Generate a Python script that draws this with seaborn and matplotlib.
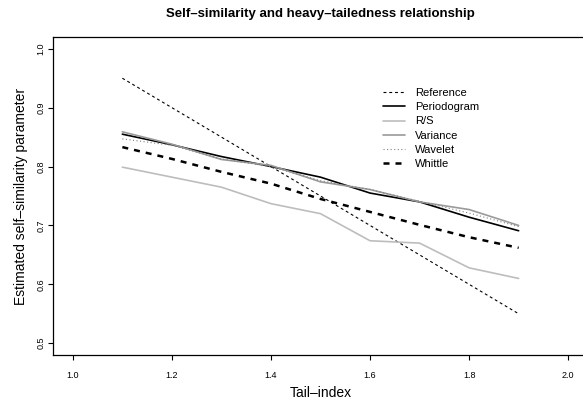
import matplotlib
matplotlib.use("Agg")
import matplotlib.pyplot as plt
import seaborn as sns
import numpy as np

tail_index = [1.1, 1.2, 1.3, 1.4, 1.5, 1.6, 1.7, 1.8, 1.9]
reference = [0.95, 0.90, 0.85, 0.80, 0.75, 0.70, 0.65, 0.60, 0.55]
periodogram = [0.855, 0.837, 0.817, 0.800, 0.782, 0.755, 0.740, 0.714, 0.691]
rs = [0.799, 0.782, 0.765, 0.737, 0.720, 0.674, 0.670, 0.628, 0.610]
variance = [0.859, 0.838, 0.812, 0.802, 0.774, 0.761, 0.740, 0.727, 0.700]
wavelet = [0.847, 0.836, 0.813, 0.800, 0.776, 0.761, 0.741, 0.721, 0.698]
whittle = [0.833, 0.813, 0.791, 0.771, 0.745, 0.723, 0.701, 0.680, 0.662]

series_names = ["Reference", "Periodogram", "R/S", "Variance", "Wavelet", "Whittle"]
series_values = [reference, periodogram, rs, variance, wavelet, whittle]
x_ticks = [1.0, 1.2, 1.4, 1.6, 1.8, 2.0]
y_ticks = [0.5, 0.6, 0.7, 0.8, 0.9, 1.0]

styles = {
    "Reference": dict(color="black", lw=0.8, dashes=(2.6, 2.6)),
    "Periodogram": dict(color="black", lw=1.2, dashes=None),
    "R/S": dict(color="#bdbdbd", lw=1.2, dashes=None),
    "Variance": dict(color="#9a9a9a", lw=1.2, dashes=None),
    "Wavelet": dict(color="#808080", lw=0.8, dashes=(1.0, 2.2)),
    "Whittle": dict(color="black", lw=1.8, dashes=(2.4, 2.4)),
}

sns.set_theme(style="white")
plt.rcParams["font.family"] = ["Liberation Sans", "DejaVu Sans"]
plt.rcParams["text.color"] = "black"
plt.rcParams["axes.labelcolor"] = "black"
plt.rcParams["xtick.color"] = "black"
plt.rcParams["ytick.color"] = "black"

fig = plt.figure(figsize=(5.83, 4.0), dpi=100)
W, H = 583, 400
left, right, top, bottom = 53, 588, 37, 355
ax = fig.add_axes([left / W, 1 - bottom / H, (right - left) / W, (bottom - top) / H])

for name, vals in zip(series_names, series_values):
    st = styles[name]
    sns.lineplot(x=tail_index, y=vals, ax=ax, color=st["color"], linewidth=st["lw"],
                 label=name)
    line = ax.get_lines()[-1]
    if st["dashes"] is not None:
        line.set_dashes(st["dashes"])

ax.set_xlim(0.96, 2.04)
ax.set_ylim(0.48, 1.02)
ax.set_xticks(x_ticks)
ax.set_xticklabels([f"{v:.1f}" for v in x_ticks], fontsize=6.5)
ax.set_yticks(y_ticks)
ax.set_yticklabels([f"{v:.1f}" for v in y_ticks], fontsize=6.5, rotation=90, va="center")
ax.tick_params(axis="both", direction="out", length=3.5, width=0.8, color="black",
               bottom=True, left=True)
ax.tick_params(axis="x", pad=8)
ax.tick_params(axis="y", pad=2)
for sp in ax.spines.values():
    sp.set_color("black")
    sp.set_linewidth(0.9)
ax.set_xlabel("Tail–index", fontsize=10, labelpad=4)
ax.set_ylabel("Estimated self–similarity parameter", fontsize=10, labelpad=6)
fig.text(320 / W, 1 - 14 / H, "Self–similarity and heavy–tailedness relationship",
         ha="center", va="center", fontsize=9.5, fontweight="bold")

leg = ax.legend(loc="upper left", bbox_to_anchor=(383 / W, 1 - 88 / H),
                bbox_transform=fig.transFigure, frameon=False, fontsize=8,
                handlelength=2.0, handletextpad=0.9, labelspacing=0.38, borderpad=0,
                borderaxespad=0)

fig.savefig("out.png", dpi=100)
